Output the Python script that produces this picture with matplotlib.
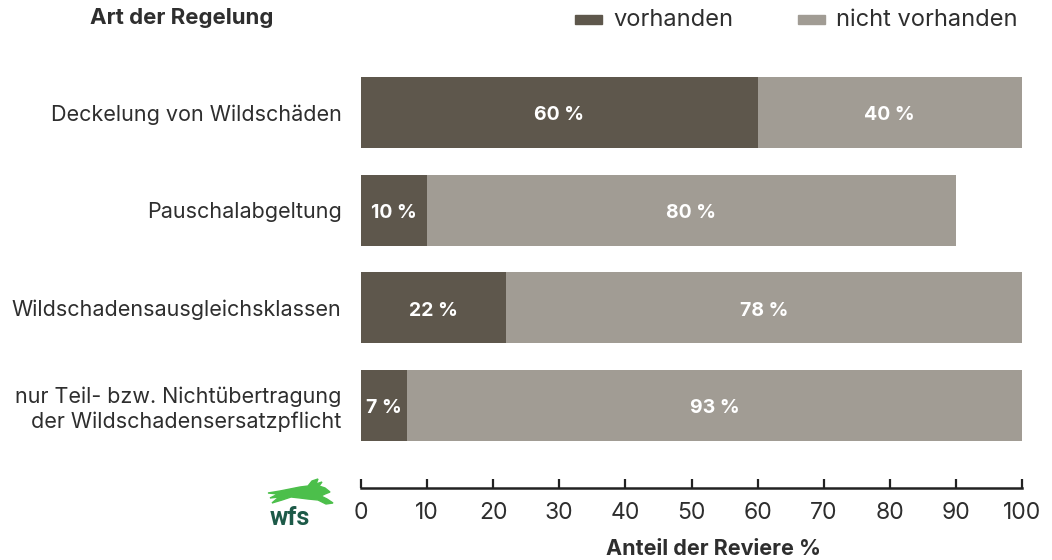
import matplotlib
matplotlib.use("Agg")
import matplotlib.pyplot as plt
from matplotlib.patches import Rectangle, Polygon

# Daten
kategorien = [
    "Deckelung von Wildschäden",
    "Pauschalabgeltung",
    "Wildschadensausgleichsklassen",
    "nur Teil- bzw. Nichtübertragung\nder Wildschadensersatzpflicht",
]
vorhanden = [60, 10, 22, 7]
nicht_vorhanden = [40, 80, 78, 93]
xticks = [0, 10, 20, 30, 40, 50, 60, 70, 80, 90, 100]

c_dunkel = "#5e574c"
c_hell = "#a19c94"
c_text = "#2e2e2e"

plt.rcParams["font.family"] = ["Inter", "DejaVu Sans"]

fig = plt.figure(figsize=(10.52, 5.6), dpi=100)
ax = fig.add_axes([361 / 1052, 1 - 488 / 560, 661 / 1052, 428 / 560])

y = list(range(len(kategorien)))
ax.barh(y, vorhanden, height=0.727, color=c_dunkel)
ax.barh(y, nicht_vorhanden, left=vorhanden, height=0.727, color=c_hell)

# Werte in die Balken schreiben
for i in y:
    ax.text(vorhanden[i] / 2, i + 0.03, f"{vorhanden[i]} %", ha="center", va="center",
            color="white", fontsize=14, fontweight="bold")
    ax.text(vorhanden[i] + nicht_vorhanden[i] / 2, i + 0.03, f"{nicht_vorhanden[i]} %",
            ha="center", va="center", color="white", fontsize=14, fontweight="bold")

ax.set_xlim(0, 100)
ax.set_ylim(3.845, -0.5375)
ax.set_yticks(y)
ax.set_yticklabels(kategorien, fontsize=15.5, color=c_text, linespacing=1.25)
ax.tick_params(axis="y", length=0, pad=14)
ax.set_xticks(xticks)
ax.set_xticklabels([str(t) for t in xticks], fontsize=16.5, color=c_text)
ax.tick_params(axis="x", direction="in", length=6.5, width=1.6, color="#222222", pad=10)
for s in ["top", "right", "left"]:
    ax.spines[s].set_visible(False)
ax.spines["bottom"].set_linewidth(1.8)
ax.spines["bottom"].set_color("#222222")
for lbl in ax.get_yticklabels():
    lbl.set_multialignment("right")

# Titel und Achsenbeschriftung
fig.text(90 / 1052, 1 - 18 / 560, "Art der Regelung", fontsize=16, fontweight="bold",
         color=c_text, va="center", ha="left")
fig.text(714 / 1052, 1 - 549 / 560, "Anteil der Reviere %", fontsize=15.5, fontweight="bold",
         color=c_text, va="center", ha="center")

# Legende
for x0, farbe, txt in [(575, c_dunkel, "vorhanden"), (798, c_hell, "nicht vorhanden")]:
    fig.patches.append(Rectangle((x0 / 1052, 1 - 24 / 560), 27 / 1052, 9 / 560,
                                 transform=fig.transFigure, color=farbe))
    fig.text((x0 + 38) / 1052, 1 - 20 / 560, txt, fontsize=17, color=c_text,
             va="center", ha="left")

# Logo
hase = [(268, 493), (280, 491), (290, 489), (300, 487), (308, 486), (312, 481),
        (318, 479), (316, 484), (322, 482), (319, 486), (325, 488), (330, 492),
        (325, 494), (321, 496), (327, 499), (333, 503), (326, 504), (318, 500),
        (308, 499), (300, 498), (291, 497), (282, 500), (272, 503), (279, 497),
        (270, 498), (278, 494)]
fig.patches.append(Polygon([(px / 1052, 1 - py / 560) for px, py in hase],
                           closed=True, transform=fig.transFigure, color="#4cbf4b"))
fig.text(290 / 1052, 1 - 518 / 560, "wfs", fontsize=18, fontweight="bold",
         color="#1d5a48", va="center", ha="center", family=["Roboto", "DejaVu Sans"])

fig.savefig("out.png", dpi=100)
